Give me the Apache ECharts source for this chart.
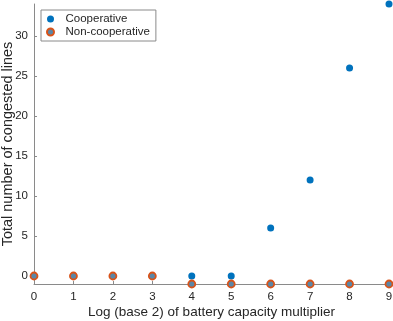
<!DOCTYPE html>
<html><head><meta charset="utf-8">
<script src="https://cdn.jsdelivr.net/npm/echarts@6/dist/echarts.min.js"></script>
<style>html,body{margin:0;padding:0;background:#fff}#c{width:393px;height:321px}</style>
</head><body><div id="c"></div>
<script>
const xValues = [0,1,2,3,4,5,6,7,8,9];
const cooperative = [0,0,0,0,0,0,6,12,26,34];
const nonCooperative = [0,0,0,0,-1,-1,-1,-1,-1,-1];
const yTicks = [0,5,10,15,20,25,30];
const xTicks = [0,1,2,3,4,5,6,7,8,9];

const chart = echarts.init(document.getElementById('c'), null, {renderer:'canvas'});
const font = 'Liberation Sans, Arial, sans-serif';
const axisColor = '#8a8a8a';
chart.setOption({
  animation:false,
  textStyle:{fontFamily:font},
  grid:{left:34,right:4,top:4,bottom:37,containLabel:false,outerBoundsMode:'none'},
  legend:{
    left:41, top:10, orient:'vertical',
    borderColor:'#8a8a8a', borderWidth:1, borderRadius:0,
    padding:[3,6,3,5], itemGap:1,
    itemWidth:20, itemHeight:7,
    textStyle:{fontSize:11.5,color:'#262626',fontFamily:font},
    data:[{name:'Cooperative',icon:'circle'},{name:'Non-cooperative',icon:'circle'}]
  },
  xAxis:{
    type:'value', min:0, max:9, interval:1,
    name:'Log (base 2) of battery capacity multiplier', nameLocation:'middle', nameGap:21,
    nameMoveOverlap:false,
    nameTextStyle:{fontSize:13.5,color:'#262626',fontFamily:font},
    axisLine:{onZero:false,lineStyle:{color:axisColor}},
    axisTick:{inside:true,length:3,lineStyle:{color:axisColor},customValues:xTicks},
    axisLabel:{fontSize:11.5,color:'#262626',margin:7,fontFamily:font,customValues:xTicks},
    splitLine:{show:false}
  },
  yAxis:{
    type:'value', min:-1, max:34,
    name:'Total number of congested lines', nameLocation:'middle', nameGap:19,
    nameMoveOverlap:false,
    nameTextStyle:{fontSize:14.5,color:'#262626',fontFamily:font},
    axisLine:{show:true,onZero:false,lineStyle:{color:axisColor}},
    axisTick:{show:true,inside:true,length:3,lineStyle:{color:axisColor},customValues:yTicks},
    axisLabel:{fontSize:11.5,color:'#262626',margin:6,fontFamily:font,customValues:yTicks},
    splitLine:{show:false}
  },
  series:[
    {name:'Cooperative',type:'scatter',symbol:'circle',symbolSize:7,
     itemStyle:{color:'#0072BD',opacity:1},
     data:xValues.map((x,i)=>[x,cooperative[i]])},
    {name:'Non-cooperative',type:'scatter',symbol:'circle',symbolSize:7,
     itemStyle:{color:'#5b86a6',borderColor:'#D95319',borderWidth:1.8,opacity:1},
     data:xValues.map((x,i)=>[x,nonCooperative[i]])}
  ]
});
</script></body></html>
